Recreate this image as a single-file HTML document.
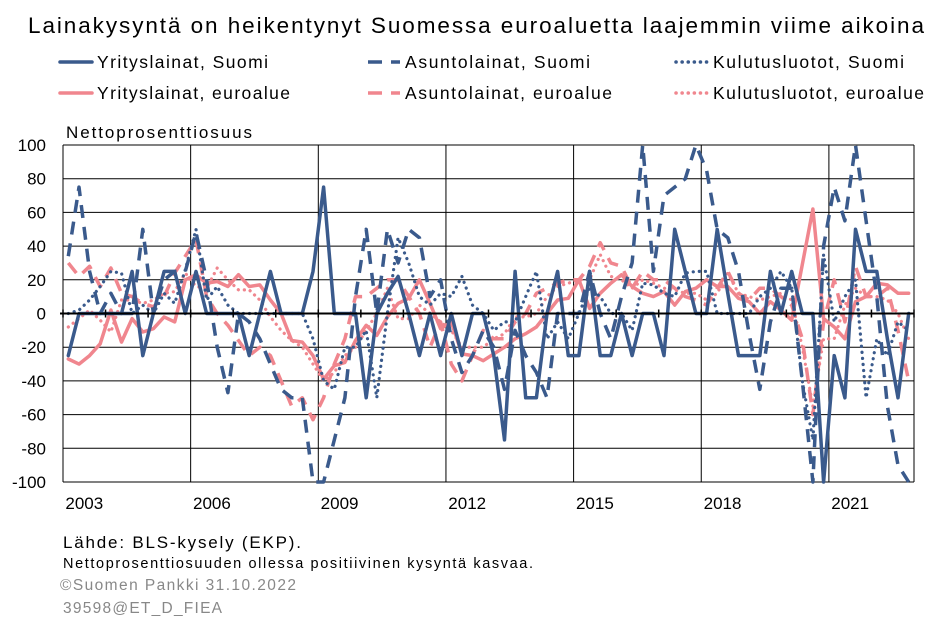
<!DOCTYPE html>
<html><head><meta charset="utf-8"><style>
body{margin:0;background:#fff;}
svg{display:block;font-family:"Liberation Sans",Arial,sans-serif;}
</style></head><body>
<svg id="c" width="952" height="623" viewBox="0 0 952 623">
<text x="28" y="33" font-size="22.5" fill="#000" textLength="896" lengthAdjust="spacing">Lainakysyntä  on heikentynyt  Suomessa  euroaluetta  laajemmin  viime  aikoina</text>
<g id="legend"></g>
<text x="66" y="138" font-size="17" textLength="186" lengthAdjust="spacing">Nettoprosenttiosuus</text>
<g id="grid"></g>
<g id="series"></g>
<g id="axes"></g>
<text x="63" y="548" font-size="17" textLength="238" lengthAdjust="spacing">Lähde: BLS-kysely (EKP).</text>
<text x="63" y="568" font-size="14.5" textLength="470" lengthAdjust="spacing">Nettoprosenttiosuuden  ollessa  positiivinen kysyntä kasvaa.</text>
<text x="60" y="590" font-size="15.5" fill="#888" textLength="236" lengthAdjust="spacing">©Suomen  Pankki 31.10.2022</text>
<text x="63" y="613" font-size="15.5" fill="#888" textLength="159" lengthAdjust="spacing">39598@ET_D_FIEA</text>
</svg>
<script>
const yearLabels=["2003","2006","2009","2012","2015","2018","2021"];
const yTicks=[100,80,60,40,20,0,-20,-40,-60,-80,-100];
const yritysSuomi=[-25,0,0,0,0,0,25,-25,0,25,25,0,25,0,0,0,0,-25,0,25,0,0,0,25,75,0,0,0,-50,0,12,22,0,-25,0,-25,0,-25,0,0,-25,-75,25,-50,-50,0,25,-25,-25,25,-25,-25,0,-25,0,0,-25,50,25,0,0,50,12,-25,-25,-25,25,0,25,0,0,-100,-25,-50,50,25,25,-15,-50,0];
const yritysEuro=[-27,-30,-25,-18,2,-17,-3,-11,-9,-2,-5,20,23,18,19,16,23,16,17,8,0,-16,-17,-25,-39,-31,-29,-16,-7,-13,-2,6,9,20,6,-9,-5,-24,-25,-28,-24,-20,-15,-12,-8,0,8,9,20,3,12,18,23,16,12,10,13,5,13,15,20,16,16,9,7,0,7,2,-4,29,62,-3,-8,-15,7,10,18,17,12,12];
const asuntoSuomi=[34,75,25,0,12,0,0,50,0,20,25,25,48,20,-20,-47,0,-5,-15,-30,-45,-50,-50,-100,-100,-75,-50,10,50,0,50,30,50,45,10,20,-15,-35,-25,-10,-20,-45,-10,-25,-35,-50,0,0,0,25,0,-15,10,30,100,25,70,75,80,100,85,50,45,25,-12,-45,-5,15,15,-40,-100,40,75,55,100,55,10,-55,-90,-100];
const asuntoEuro=[30,22,28,16,27,12,10,6,4,10,24,34,44,10,0,-7,-16,-25,-20,-25,-40,-55,-50,-63,-50,-30,-15,10,10,15,20,20,10,0,-20,-5,-30,-40,-25,-10,-15,-15,-5,0,12,15,18,20,20,28,42,30,28,15,25,20,20,15,10,8,5,15,25,12,8,15,15,10,5,-15,-60,-5,20,-5,28,10,10,15,-10,-40];
const kulutusSuomi=[0,2,8,16,25,24,0,5,0,12,6,26,50,8,16,5,0,0,0,0,0,0,0,-15,-40,-45,-20,-20,-10,-50,0,45,30,10,5,12,10,22,5,0,-10,-5,-5,10,25,-15,-5,-15,0,15,10,0,0,-10,18,17,12,10,24,25,25,0,0,0,0,10,15,25,15,-40,-75,35,-5,10,20,-50,-15,-25,-5,-10];
const kulutusEuro=[-8,-3,2,-4,-11,8,8,6,8,12,13,24,16,15,27,20,14,14,8,-2,-10,-16,-20,-30,-40,-35,-25,-20,-10,0,15,-3,-3,5,0,-5,-10,-20,-20,-20,-15,-12,-2,-2,0,10,16,18,20,20,35,22,20,15,20,18,15,14,12,12,8,12,24,12,10,8,10,12,8,-20,-55,-15,-15,5,15,10,10,8,0,-15];
const BLUE="#3a5a8c",PINK="#f0868e";
const L=63,R=914,T=145,B=482;
const N=80;
const xq=i=>L+(i+0.5)*(R-L)/N;
const yv=v=>T+(100-v)/200*(B-T);
const NS="http://www.w3.org/2000/svg";
function mk(tag,attrs,parent){const e=document.createElementNS(NS,tag);for(const k in attrs)e.setAttribute(k,attrs[k]);parent.appendChild(e);return e;}
const grid=document.getElementById('grid'),axes=document.getElementById('axes'),ser=document.getElementById('series'),leg=document.getElementById('legend');
yTicks.forEach(t=>{
  const ln=mk('line',{x1:L,x2:R,y1:yv(t),y2:yv(t),stroke:'#000','stroke-width':1},grid);
  
  
  const tx=mk('text',{x:46,y:yv(t)+6,'font-size':17,'text-anchor':'end'},axes);
  tx.textContent=t;
  
  
});
yearLabels.forEach((lab,k)=>{
  const x0=L+k*12*(R-L)/N;
  const g=mk('line',{x1:x0,x2:x0,y1:T,y2:B,stroke:'#000','stroke-width':1},grid);
  
  
  const tx=mk('text',{x:L+(k*12+2)*(R-L)/N,y:509,'font-size':17,'text-anchor':'middle'},axes);
  tx.textContent=lab;
  
  
});
const rb=mk('line',{x1:R,x2:R,y1:T,y2:B,stroke:'#000','stroke-width':1},grid);


const za=mk('line',{x1:L-3,x2:R,y1:yv(0),y2:yv(0),stroke:'#000','stroke-width':2},axes);


for(let yr=0;yr<=20;yr++){const x=L+yr*4*(R-L)/N;const tk=mk('line',{x1:x,x2:x,y1:yv(0)-4,y2:yv(0)+4,stroke:'#000','stroke-width':1.5},axes);

}
const styles={solid:{dash:'',cap:'round'},dash:{dash:'13 9',cap:'butt'},dot:{dash:'0.1 6',cap:'round'}};
function series(data,color,st,name){
  const d=data.map((v,i)=>(i?'L':'M')+xq(i).toFixed(1)+' '+yv(Math.max(-100,Math.min(100,v))).toFixed(1)).join(' ');
  const p=mk('path',{d:d,fill:'none',stroke:color,'stroke-width':st==='dot'?3.2:3.5,'stroke-linejoin':'round','stroke-linecap':styles[st].cap,'stroke-dasharray':styles[st].dash},ser);
  
  
}
series(kulutusEuro,PINK,'dot','kulutus-euroalue-line');
series(asuntoEuro,PINK,'dash','asunto-euroalue-line');
series(yritysEuro,PINK,'solid','yritys-euroalue-line');
series(kulutusSuomi,BLUE,'dot','kulutus-suomi-line');
series(asuntoSuomi,BLUE,'dash','asunto-suomi-line');
series(yritysSuomi,BLUE,'solid','yritys-suomi-line');
const legItems=[["Yrityslainat, Suomi",BLUE,'solid',58,62,171],["Asuntolainat, Suomi",BLUE,'dash',366,62,185],["Kulutusluotot, Suomi",BLUE,'dot',674,62,191],["Yrityslainat, euroalue",PINK,'solid',58,93,193],["Asuntolainat, euroalue",PINK,'dash',366,93,207],["Kulutusluotot, euroalue",PINK,'dot',674,93,211]];
legItems.forEach(it=>{
  const g=mk('g',{},leg);
  
  
  const da=it[2]==='dash'?'14 9':it[2]==='dot'?'0.1 6':'';
  mk('line',{x1:it[3]+2,x2:it[3]+34,y1:it[4],y2:it[4],stroke:it[1],'stroke-width':3.5,'stroke-linecap':it[2]==='dash'?'butt':'round','stroke-dasharray':da},g);
  const t=mk('text',{x:it[3]+39,y:it[4]+6,'font-size':17.5,textLength:it[5],lengthAdjust:'spacing'},g);
  t.textContent=it[0];
});
</script>
</body></html>
